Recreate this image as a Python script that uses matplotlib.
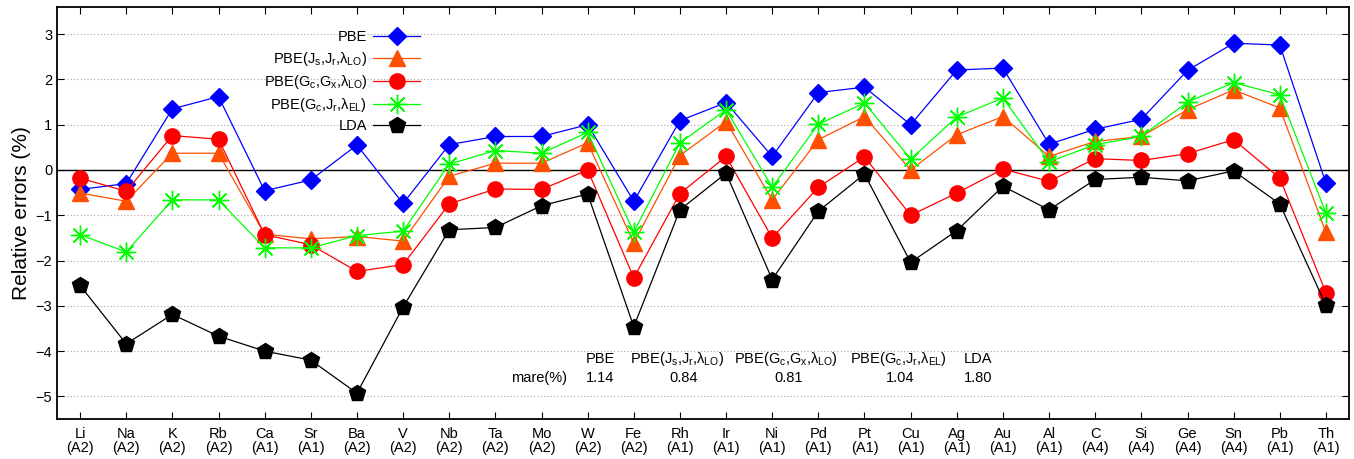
import numpy as np
import matplotlib
matplotlib.use("Agg")
import matplotlib.pyplot as plt

plt.rcParams['font.family'] = ['Liberation Sans', 'DejaVu Sans']
plt.rcParams['mathtext.fontset'] = 'custom'
plt.rcParams['mathtext.rm'] = 'Liberation Sans'
plt.rcParams['mathtext.it'] = 'Liberation Sans:italic'

elements = ['Li', 'Na', 'K', 'Rb', 'Ca', 'Sr', 'Ba', 'V', 'Nb', 'Ta', 'Mo', 'W', 'Fe', 'Rh',
            'Ir', 'Ni', 'Pd', 'Pt', 'Cu', 'Ag', 'Au', 'Al', 'C', 'Si', 'Ge', 'Sn', 'Pb', 'Th']
structures = ['A2', 'A2', 'A2', 'A2', 'A1', 'A1', 'A2', 'A2', 'A2', 'A2', 'A2', 'A2', 'A2', 'A1',
              'A1', 'A1', 'A1', 'A1', 'A1', 'A1', 'A1', 'A1', 'A4', 'A4', 'A4', 'A4', 'A1', 'A1']

pbe = [-0.43, -0.30, 1.35, 1.62, -0.46, -0.22, 0.55, -0.74, 0.56, 0.74, 0.74, 1.00, -0.69, 1.09,
       1.49, 0.30, 1.71, 1.83, 1.00, 2.21, 2.25, 0.57, 0.90, 1.12, 2.20, 2.80, 2.76, -0.29]
pbe_js = [-0.51, -0.69, 0.37, 0.37, -1.42, -1.52, -1.47, -1.57, -0.14, 0.15, 0.15, 0.60, -1.61, 0.32,
          1.07, -0.66, 0.67, 1.18, 0.00, 0.78, 1.18, 0.30, 0.63, 0.74, 1.33, 1.77, 1.37, -1.38]
pbe_gc = [-0.18, -0.47, 0.76, 0.68, -1.43, -1.65, -2.24, -2.09, -0.75, -0.42, -0.43, 0.00, -2.38, -0.52,
          0.30, -1.50, -0.38, 0.29, -1.00, -0.51, 0.02, -0.25, 0.25, 0.21, 0.36, 0.67, -0.18, -2.71]
pbe_el = [-1.43, -1.81, -0.66, -0.66, -1.72, -1.72, -1.45, -1.35, 0.13, 0.43, 0.37, 0.83, -1.37, 0.60,
          1.33, -0.38, 1.01, 1.48, 0.24, 1.17, 1.59, 0.18, 0.56, 0.74, 1.50, 1.93, 1.66, -0.95]
lda = [-2.55, -3.84, -3.19, -3.67, -4.00, -4.20, -4.93, -3.03, -1.32, -1.27, -0.79, -0.53, -3.46, -0.88,
       -0.07, -2.42, -0.91, -0.09, -2.04, -1.34, -0.36, -0.88, -0.21, -0.16, -0.24, -0.02, -0.75, -2.99]

lab_js = r'PBE(J$_\mathrm{s}$,J$_\mathrm{r}$,λ$_\mathrm{LO}$)'
lab_gc = r'PBE(G$_\mathrm{c}$,G$_\mathrm{x}$,λ$_\mathrm{LO}$)'
lab_el = r'PBE(G$_\mathrm{c}$,J$_\mathrm{r}$,λ$_\mathrm{EL}$)'

mare_names = ['PBE', lab_js, lab_gc, lab_el, 'LDA']
mare_vals = ['1.14', '0.84', '0.81', '1.04', '1.80']

x = np.arange(len(elements))

fig = plt.figure(figsize=(13.54, 4.59), dpi=100)
ax = fig.add_axes([57/1354, 1-419/459, 1292/1354, 412/459])

for yv in range(-5, 4):
    if yv != 0:
        ax.axhline(yv, color='#a8a8a8', lw=0.8, ls=(0, (1, 2)), zorder=0)
ax.axhline(0, color='black', lw=1.0, zorder=1)

lw = 0.9
ax.plot(x, pbe, color='#0000ff', lw=lw, marker='D', ms=9, label='PBE')
ax.plot(x, pbe_js, color='#ff4f00', lw=lw, marker='^', ms=11, label=lab_js)
ax.plot(x, pbe_gc, color='#ff0000', lw=lw, marker='o', ms=11, label=lab_gc)
ax.plot(x, pbe_el, color='#00ff00', lw=lw, marker=(8, 2, 0), ms=14, mew=1.0, label=lab_el)
ax.plot(x, lda, color='black', lw=lw, marker='p', ms=12, label='LDA')

ax.set_xlim(-0.5, len(elements) - 0.5)
ax.set_ylim(-5.5, 3.6)
ax.set_yticks(range(-5, 4))
ax.set_xticks(x)
ax.set_xticklabels([f'{e}\n({s})' for e, s in zip(elements, structures)], fontsize=10.5, linespacing=1.0)
ax.tick_params(axis='both', direction='in', top=True, right=True, length=5, width=0.8, labelsize=10.5)
ax.tick_params(axis='x', pad=6)
for s in ax.spines.values():
    s.set_linewidth(1.3)
ax.set_ylabel('Relative errors (%)', fontsize=15, labelpad=3)

leg = ax.legend(loc='upper right', bbox_to_anchor=(0.291, 0.975), frameon=False, markerfirst=False,
                numpoints=1, handlelength=3.2, labelspacing=0.36, fontsize=10.5, handletextpad=0.4)

# mare table
name_x = [600, 677, 786, 898, 978]
val_x = [600, 684, 789, 900, 978]
for n, px in zip(mare_names, name_x):
    ax.text((px - 80) / 46.14, -4.18, n, ha='center', va='center', fontsize=10.5)
for v, px in zip(mare_vals, val_x):
    ax.text((px - 80) / 46.14, -4.6, v, ha='center', va='center', fontsize=10.5)
ax.text((539 - 80) / 46.14, -4.6, 'mare(%)', ha='center', va='center', fontsize=10.5)

fig.savefig('out.png', dpi=100)
